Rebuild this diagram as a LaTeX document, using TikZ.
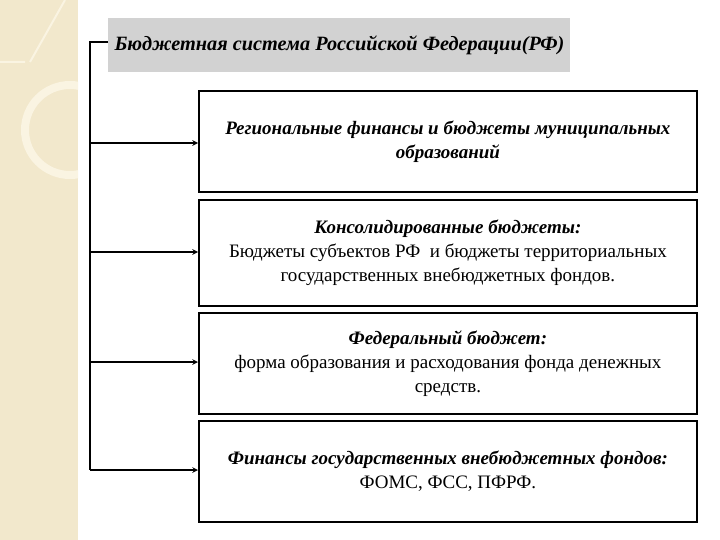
\documentclass[tikz,border=0pt]{standalone}
\usepackage{fontspec}
\setmainfont{Liberation Serif}
\definecolor{strip}{RGB}{242,232,204}
\definecolor{stripl}{RGB}{250,244,226}
\begin{document}
\begin{tikzpicture}[x=1pt,y=-1pt,
 bx/.style={draw,line width=1.8pt,minimum width=498pt,anchor=north west,align=center,font=\fontsize{19}{24}\selectfont},
 ln/.style={line width=1.5pt},
 ar/.style={line width=1.5pt,-stealth}]
\useasboundingbox (0,0) rectangle (720,540);
\fill[white] (0,0) rectangle (720,540);
\fill[strip] (0,0) rectangle (78,540);
\begin{scope}
\clip (0,0) rectangle (78,540);
\draw[stripl,line width=8pt] (70,130) circle (45);
\draw[stripl,line width=2pt] (0,62) -- (25,62) (65,0) -- (30,62);
\end{scope}
\fill[gray!35] (108,18) rectangle (570,72);
\node[font=\fontsize{20.3}{22}\selectfont\bfseries\itshape,anchor=west] (t) at (111,45) {Бюджетная система Российской Федерации(РФ)};
\node[bx,minimum height=101pt] (b1) at (198,90) {\textbf{\textit{Региональные финансы и бюджеты муниципальных}}\\\textbf{\textit{образований}}};
\node[bx,minimum height=106pt] (b2) at (198,199) {\textbf{\textit{Консолидированные бюджеты:}}\\Бюджеты субъектов РФ\ \ и бюджеты территориальных\\государственных внебюджетных фондов.};
\node[bx,minimum height=101pt] (b3) at (198,312) {\textbf{\textit{Федеральный бюджет:}}\\форма образования и расходования фонда денежных\\средств.};
\node[bx,minimum height=101pt] (b4) at (198,420) {\textbf{\textit{Финансы государственных внебюджетных фондов:}}\\ФОМС, ФСС, ПФРФ.};
\coordinate (top) at (90,42);
\coordinate (bot) at (90,470);
\draw[ln] (108,42) -- (top) -- (bot);
\draw[ar] (90,143) -- (b1.west|-0,143);
\draw[ar] (90,252) -- (b2.west|-0,252);
\draw[ar] (90,362) -- (b3.west|-0,362);
\draw[ar] (bot) -- (b4.west|-bot);
\end{tikzpicture}
\end{document}
